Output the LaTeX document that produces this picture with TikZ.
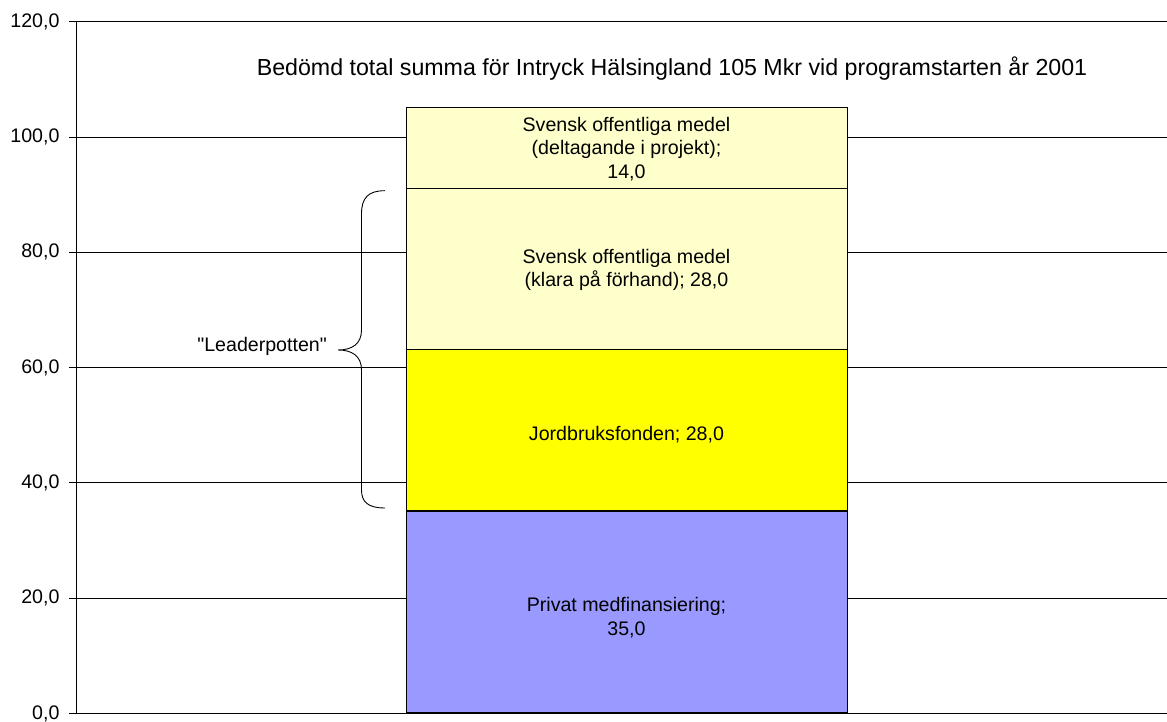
\documentclass[tikz,border=0pt]{standalone}
\usepackage{fontspec}
\setmainfont{Liberation Sans}[Ligatures=TeXOff]
\begin{document}
\begin{tikzpicture}[x=1pt,y=1pt,
  txt/.style={font=\fontsize{19.6}{23.8}\selectfont, text=black},
  grid/.style={draw=black, line width=0.9pt},
  seg/.style={draw=black, line width=1.2pt, anchor=south west, minimum width=441pt, inner sep=0pt},
  lbl/.style={txt, align=center, inner sep=0pt},
  tick/.style={anchor=east, txt}]
\useasboundingbox (0,0) rectangle (1167,722);
% gridlines and ticks
\foreach \v/\y in {0/8.5,20/123.8,40/239.1,60/354.4,80/469.7,100/585.0,120/700.3}{
  \draw[grid] (69,\y) -- (1167,\y);
}
\node[tick] (t0) at (63,8.5) {0,0};
\node[tick] (t20) at (63,123.8) {20,0};
\node[tick] (t40) at (63,239.1) {40,0};
\node[tick] (t60) at (63,354.4) {60,0};
\node[tick] (t80) at (63,469.7) {80,0};
\node[tick] (t100) at (63,585.0) {100,0};
\node[tick] (t120) at (63,700.3) {120,0};
\draw[grid] (76,8.5) -- (76,700.3);
% bar segments
\node[seg, fill={rgb,255:red,153;green,153;blue,255}, minimum height=201.8pt] (s1) at (406,8.5) {};
\node[seg, fill={rgb,255:red,255;green,255;blue,0}, minimum height=161.4pt] (s2) at (406,210.3) {};
\node[seg, fill={rgb,255:red,255;green,255;blue,204}, minimum height=161.4pt] (s3) at (406,371.7) {};
\node[seg, fill={rgb,255:red,255;green,255;blue,204}, minimum height=80.7pt] (s4) at (406,533.1) {};
\node[lbl] (l1) at (626.5,104.5) {Privat medfinansiering;\\35,0};
\node[lbl] (l2) at (626.5,287) {Jordbruksfonden; 28,0};
\node[lbl] (l3) at (626.5,452) {Svensk offentliga medel\\(klara på förhand); 28,0};
\node[lbl] (l4) at (626.5,573) {Svensk offentliga medel\\(deltagande i projekt);\\14,0};
% title
\node[txt, font=\fontsize{23.2}{28}\selectfont] (title) at (672,653) {Bedömd total summa för Intryck Hälsingland 105 Mkr vid programstarten år 2001};
% brace
\coordinate (bt) at (385,531.3);
\coordinate (bm) at (338,372);
\coordinate (bb) at (385,214);
\draw[line width=0.9pt] (bt) .. controls (368,531.3) and (361.5,524) .. (361.5,508) -- (361.5,392)
  .. controls (361.5,378) and (352,372) .. (bm)
  .. controls (352,372) and (361.5,366) .. (361.5,352) -- (361.5,232)
  .. controls (361.5,220) and (368,214) .. (bb);
\node[txt, anchor=east, inner sep=0pt] (lp) at (327,376) {"Leaderpotten"};
\end{tikzpicture}
\end{document}
